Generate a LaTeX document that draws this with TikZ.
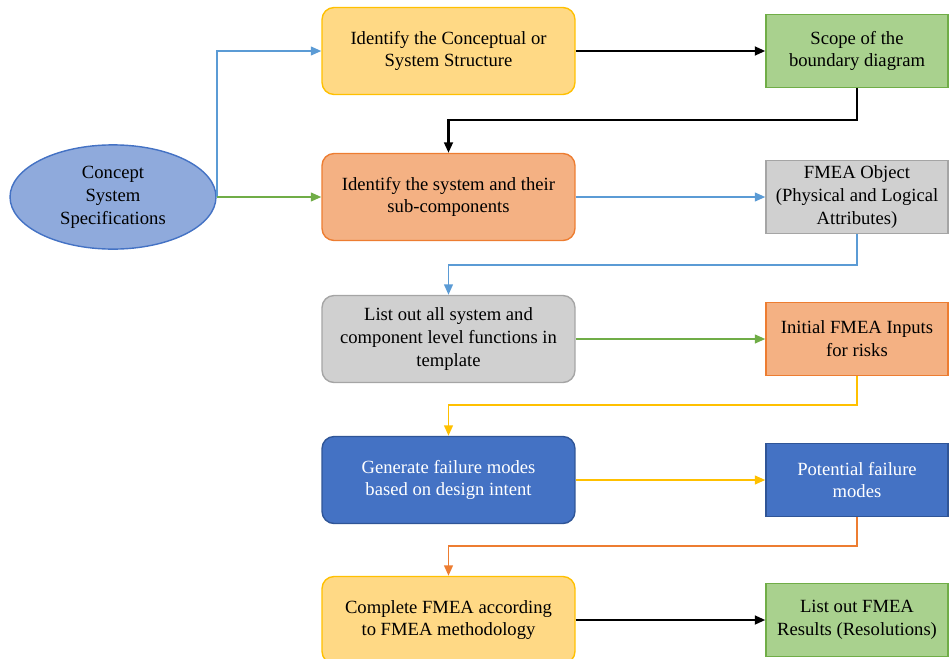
\documentclass[tikz,border=0pt]{standalone}
\usepackage{fontspec}
\setmainfont{Liberation Serif}
\usetikzlibrary{arrows.meta,shapes.geometric}

\definecolor{ylwfill}{HTML}{FFD985}
\definecolor{ylwline}{HTML}{FFC000}
\definecolor{salfill}{HTML}{F4B183}
\definecolor{salline}{HTML}{ED7D31}
\definecolor{gryfill}{HTML}{D0D0D0}
\definecolor{gryline}{HTML}{A5A5A5}
\definecolor{bluefill}{HTML}{4472C4}
\definecolor{blueline}{HTML}{2F5597}
\definecolor{grnfill}{HTML}{A9D18E}
\definecolor{grnline}{HTML}{70AD47}
\definecolor{ellfill}{HTML}{8FAADC}
\definecolor{lblue}{HTML}{5B9BD5}

\begin{document}
\begin{tikzpicture}[x=0.02cm,y=-0.02cm,
    font=\fontsize{10.6}{13}\selectfont,
    stepbox/.style={draw,line width=0.8pt,rounded corners=0.24cm,align=center,
      minimum width=5.06cm,minimum height=1.74cm,inner sep=2pt},
    outbox/.style={draw,line width=0.8pt,align=center,
      minimum width=3.64cm,minimum height=1.46cm,inner sep=2pt},
    ylw/.style={fill=ylwfill,draw=ylwline},
    sal/.style={fill=salfill,draw=salline},
    gry/.style={fill=gryfill,draw=gryline},
    blu/.style={fill=bluefill,draw=blueline,text=white},
    grn/.style={fill=grnfill,draw=grnline},
    flow/.style={line width=1.1pt,-{Triangle[length=6pt,width=5pt]}}]
  \useasboundingbox (0,0) rectangle (950,659);

  \node[ellipse,draw=bluefill,fill=ellfill,line width=0.8pt,
    minimum width=4.12cm,minimum height=1.76cm,align=center] (spec) at (113,197)
    {Concept\\System\\Specifications};

  \node[stepbox,ylw] (concept) at (448.5,51) {Identify the Conceptual or\\System Structure};
  \node[stepbox,sal] (system) at (448.5,197) {Identify the system and their\\sub-components};
  \node[stepbox,gry] (funcs) at (448.5,339) {List out all system and\\component level functions in\\template};
  \node[stepbox,blu] (modes) at (448.5,480) {Generate failure modes\\based on design intent};
  \node[stepbox,ylw] (complete) at (448.5,620) {Complete FMEA according\\to FMEA methodology};

  \node[outbox,grn] (scope) at (857,51) {Scope of the\\boundary diagram};
  \node[outbox,gry] (object) at (857,197) {FMEA Object\\(Physical and Logical\\Attributes)};
  \node[outbox,sal] (inputs) at (857,339) {Initial FMEA Inputs\\for risks};
  \node[outbox,blu] (potential) at (857,480) {Potential failure\\modes};
  \node[outbox,grn] (results) at (857,620) {List out FMEA\\Results (Resolutions)};

  % from the specifications
  \draw[flow,lblue] (spec.east) -- ++(0,-146) |- (concept.west);
  \draw[flow,grnline] (spec.east) -- (system.west);

  % across and back down
  \draw[flow,black,line width=1.3pt] (concept.east) -- (scope.west);
  \draw[flow,black,line width=1.3pt] (scope.south) -- ++(0,32) -| (system.north);
  \draw[flow,lblue] (system.east) -- (object.west);
  \draw[flow,lblue] (object.south) -- ++(0,31) -| (funcs.north);
  \draw[flow,grnline] (funcs.east) -- (inputs.west);
  \draw[flow,ylwline] (inputs.south) -- ++(0,29) -| (modes.north);
  \draw[flow,ylwline] (modes.east) -- (potential.west);
  \draw[flow,salline] (potential.south) -- ++(0,29) -| (complete.north);
  \draw[flow,black,line width=1.3pt] (complete.east) -- (results.west);
\end{tikzpicture}
\end{document}
